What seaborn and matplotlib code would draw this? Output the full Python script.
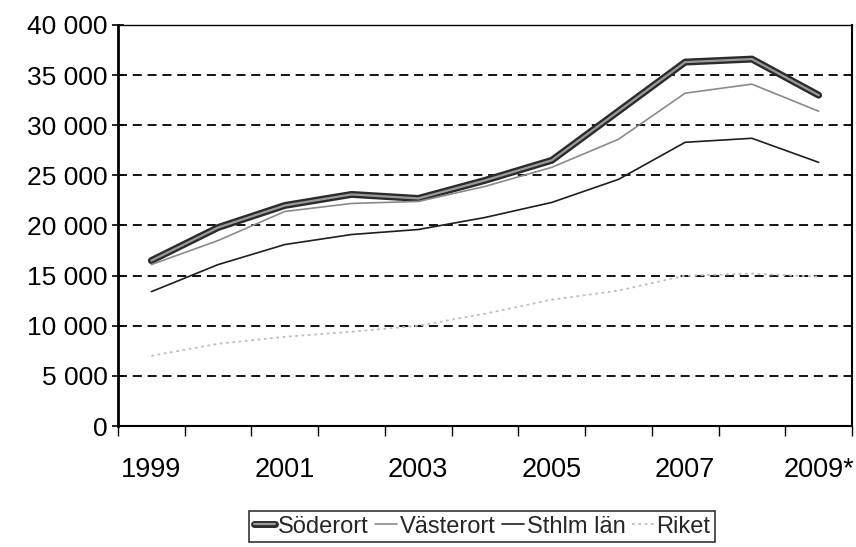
import numpy as np
import pandas as pd
import matplotlib
matplotlib.use("Agg")
import matplotlib.pyplot as plt
import matplotlib.patheffects as pe
import seaborn as sns

years = [1999, 2000, 2001, 2002, 2003, 2004, 2005, 2006, 2007, 2008, 2009]
year_labels = ["1999", "2001", "2003", "2005", "2007", "2009*"]

soderort = [16500, 19800, 22000, 23100, 22700, 24500, 26500, 31400, 36300, 36600, 33000]
vasterort = [16100, 18500, 21400, 22200, 22400, 23900, 25800, 28600, 33200, 34100, 31400]
sthlm_lan = [13400, 16100, 18100, 19100, 19600, 20800, 22300, 24600, 28300, 28700, 26300]
riket = [7000, 8200, 8900, 9400, 10000, 11200, 12600, 13500, 15000, 15200, 14900]

series_names = ["Söderort", "Västerort", "Sthlm län", "Riket"]

df = pd.DataFrame({
    "År": years * 4,
    "Värde": soderort + vasterort + sthlm_lan + riket,
    "Område": [n for n in series_names for _ in years],
})

sns.set_theme(style="white")
plt.rcParams["font.family"] = ["Liberation Sans", "DejaVu Sans"]

fig = plt.figure(figsize=(8.56, 5.47), dpi=100)
ax = fig.add_axes([118 / 856, 1 - 426 / 547, (852 - 118) / 856, (426 - 25) / 547])

# line styles, roughly matching the scanned print
styles = {
    "Söderort": dict(color="#9a9a9a", linewidth=1.6,
                     path_effects=[pe.Stroke(linewidth=5, foreground="#2b2b2b"), pe.Normal()]),
    "Västerort": dict(color="#8a8a8a", linewidth=1.2),
    "Sthlm län": dict(color="#1e1e1e", linewidth=1.2),
    "Riket": dict(color="#bdbdbd", linewidth=1.3, linestyle=(0, (1.5, 2))),
}

for name in series_names:
    sub = df[df["Område"] == name]
    sns.lineplot(data=sub, x="År", y="Värde", ax=ax, label=name, **styles[name])

ax.set_xlim(1998.5, 2009.5)
ax.set_ylim(0, 40000)

# y axis
yticks = np.arange(0, 40001, 5000)
ax.set_yticks(yticks)
ax.set_yticklabels([f"{v:,}".replace(",", " ") for v in yticks], fontsize=19)
ax.tick_params(axis="y", which="major", direction="inout", length=9, width=1.2,
               pad=3, colors="black", left=True)
ax.yaxis.grid(True, linestyle=(0, (5, 3.2)), color="black", linewidth=1.3)
ax.xaxis.grid(False)

# x axis: tick marks between categories, labels on every other year
ax.set_xticks(np.arange(1998.5, 2010, 1.0))
ax.set_xticklabels([])
ax.tick_params(axis="x", which="major", direction="out", length=7, width=1.0,
               colors="black", bottom=True)
ax.set_xticks(years[::2], minor=True)
ax.set_xticklabels(year_labels, minor=True, fontsize=19.5)
ax.tick_params(axis="x", which="minor", length=0, pad=22, colors="black")

ax.set_xlabel("")
ax.set_ylabel("")

for side in ["left", "right", "bottom", "top"]:
    ax.spines[side].set_visible(True)
    ax.spines[side].set_color("black")
ax.spines["left"].set_linewidth(2.0)
ax.spines["bottom"].set_linewidth(1.5)
ax.spines["right"].set_linewidth(1.5)
ax.spines["top"].set_linewidth(1.0)

ax.legend_.remove()
handles, labels = ax.get_legend_handles_labels()
leg = fig.legend(handles, labels, loc="upper center", bbox_to_anchor=(482 / 856, 1 - 511 / 547),
                 ncol=4, frameon=True, fancybox=False, fontsize=17, handlelength=0.9,
                 handletextpad=0.12, columnspacing=0.3, borderpad=0.2, borderaxespad=0)
leg.get_frame().set_edgecolor("black")
leg.get_frame().set_linewidth(1.2)

fig.savefig("out.png", dpi=100)
